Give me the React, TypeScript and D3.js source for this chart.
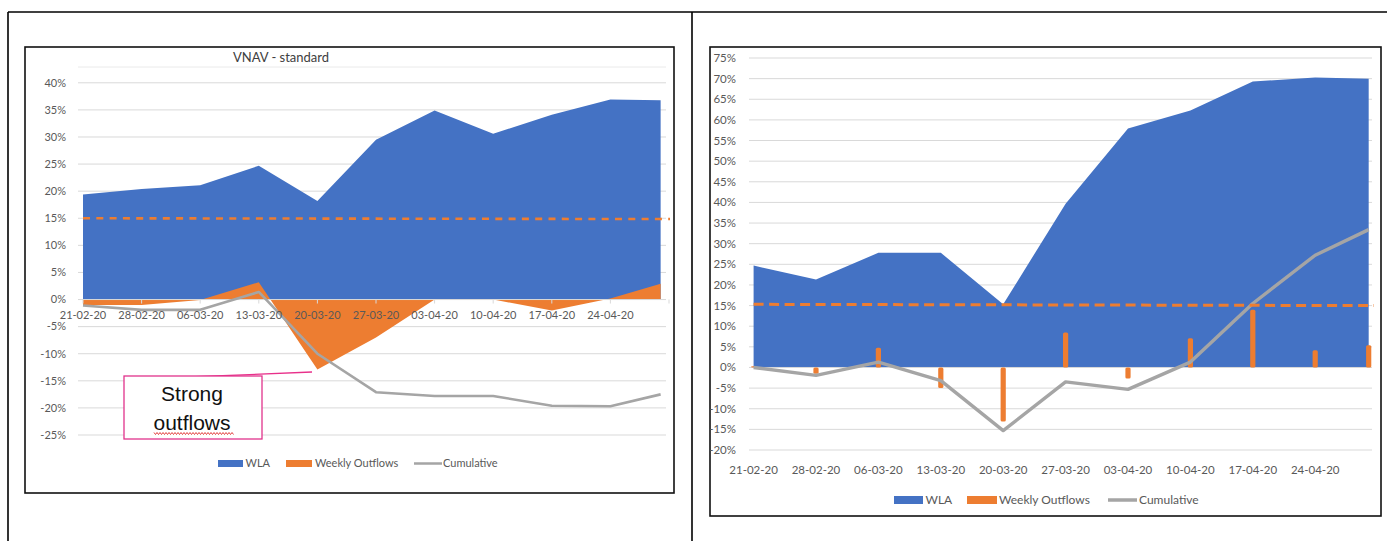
import React from "react";
import * as d3 from "d3";

// ---------- data ----------
const dates = [
  "2020-02-21", "2020-02-28", "2020-03-06", "2020-03-13", "2020-03-20", "2020-03-27",
  "2020-04-03", "2020-04-10", "2020-04-17", "2020-04-24", "2020-04-30",
];
const tickDates = [
  "2020-02-21", "2020-02-28", "2020-03-06", "2020-03-13", "2020-03-20", "2020-03-27",
  "2020-04-03", "2020-04-10", "2020-04-17", "2020-04-24", "2020-05-01",
];
const xTickLabels = [
  "21-02-20", "28-02-20", "06-03-20", "13-03-20", "20-03-20",
  "27-03-20", "03-04-20", "10-04-20", "17-04-20", "24-04-20",
];

const leftWLA = [19.4, 20.4, 21.1, 24.7, 18.2, 29.5, 34.9, 30.6, 34.1, 36.9, 36.8];
const leftOutflows = [-1.0, -1.0, -0.1, 3.2, -12.9, -7.0, 0.0, 0.0, -2.0, 0.2, 2.9];
const leftCumulative = [-1.1, -1.9, -1.9, 1.4, -10.0, -17.1, -17.8, -17.8, -19.6, -19.7, -17.5];
const leftYTicks = [40, 35, 30, 25, 20, 15, 10, 5, 0, -5, -10, -15, -20, -25];

const rightWLA = [24.7, 21.3, 27.8, 27.8, 15.3, 39.7, 57.9, 62.3, 69.3, 70.3, 70.0];
const rightOutflows = [0.3, -1.5, 4.8, -5.0, -13.1, 8.5, -2.7, 7.1, 14.0, 4.2, 5.4];
const rightCumulative = [0, -1.9, 1.3, -3.2, -15.3, -3.5, -5.3, 1.3, 15.5, 27.2, 33.4];
const rightYTicks = [75, 70, 65, 60, 55, 50, 45, 40, 35, 30, 25, 20, 15, 10, 5, 0, -5, -10, -15, -20];

const threshold = 15;
const leftTitle = "VNAV - standard";
const legendLabels = ["WLA", "Weekly Outflows", "Cumulative"];
const annotationLines = ["Strong", "outflows"];

// ---------- styles ----------
const BLUE = "#4472C4";
const ORANGE = "#ED7D31";
const GRAY = "#A5A5A5";
const GRID = "#D9D9D9";
const TEXT = "#595959";
const FONT = "Lato, 'Open Sans', sans-serif";

const parse = (s: string) => new Date(s + "T00:00:00Z");

function fmtPct(v: number) {
  return `${v}%`;
}

export default function App() {
  // left chart scales
  const xL = d3.scaleUtc().domain([parse("2020-02-21"), parse("2020-05-01")]).range([83, 669]);
  const yL = d3.scaleLinear().domain([-25, 40]).range([435, 82.8]);
  // right chart scales
  const xR = d3.scaleUtc().domain([parse("2020-02-21"), parse("2020-05-01")]).range([753.6, 1377.6]);
  const yR = d3.scaleLinear().domain([-20, 75]).range([450.0, 58]);

  const pts = dates.map(parse);

  const areaL = (vals: number[]) =>
    d3.area<number>().x((_, i) => xL(pts[i])).y0(yL(0)).y1((d) => yL(d))(vals) || "";
  const lineL = (vals: number[]) =>
    d3.line<number>().x((_, i) => xL(pts[i])).y((d) => yL(d))(vals) || "";
  const areaR = (vals: number[]) =>
    d3.area<number>().x((_, i) => xR(pts[i])).y0(yR(0)).y1((d) => yR(d))(vals) || "";
  const lineR = (vals: number[]) =>
    d3.line<number>().x((_, i) => xR(pts[i])).y((d) => yR(d))(vals) || "";

  // wavy spell-check underline
  const wave: [number, number][] = [];
  for (let x = 154, k = 0; x <= 234; x += 1.5, k++) wave.push([x, 433.5 + (k % 2 === 0 ? -1 : 1)]);
  const wavePath = d3.line()(wave) || "";

  const leftGridX0 = 78;
  const leftGridX1 = 666;
  const rightGridX0 = 749;
  const rightGridX1 = 1372;

  return (
    <svg
      width={1387}
      height={541}
      style={{ position: "absolute", left: 0, top: 0, background: "#fff" }}
      fontFamily={FONT}
    >
      <rect x={0} y={0} width={1387} height={541} fill="#fff" />
      {/* outer document frame */}
      <line x1={8} y1={12} x2={1387} y2={12} stroke="#000" strokeWidth={1.6} />
      <line x1={8} y1={12} x2={8} y2={541} stroke="#000" strokeWidth={1.6} />
      <line x1={692} y1={12} x2={692} y2={541} stroke="#000" strokeWidth={1.6} />

      {/* ================= LEFT CHART ================= */}
      <rect x={25} y={47} width={649} height={446} fill="#fff" stroke="#111" strokeWidth={1.6} />
      <text x={281} y={62} textAnchor="middle" fontSize={13} fill="#404040">
        {leftTitle}
      </text>
      <line x1={leftGridX0} x2={leftGridX1} y1={67} y2={67} stroke="#EAEAEA" strokeWidth={1} />
      {leftYTicks.map((t) => (
        <g key={"lg" + t}>
          <line x1={leftGridX0} x2={leftGridX1} y1={yL(t)} y2={yL(t)} stroke={GRID} strokeWidth={1} />
          <text x={66} y={yL(t)} dy="0.35em" textAnchor="end" fontSize={11} fill={TEXT}>
            {fmtPct(t)}
          </text>
        </g>
      ))}
      <path d={areaL(leftWLA)} fill={BLUE} />
      <path d={areaL(leftOutflows)} fill={ORANGE} />
      <line x1={leftGridX0} x2={leftGridX1} y1={yL(0)} y2={yL(0)} stroke={GRID} strokeWidth={1} />
      {tickDates.map((d) => (
        <line key={"lt" + d} x1={xL(parse(d))} x2={xL(parse(d))} y1={yL(0)} y2={yL(0) + 4} stroke={GRID} />
      ))}
      <path d={lineL(leftCumulative)} fill="none" stroke={GRAY} strokeWidth={2.6} strokeLinejoin="round" />
      <line
        x1={xL(pts[0])}
        x2={670}
        y1={yL(threshold)}
        y2={yL(threshold - 0.15)}
        stroke={ORANGE}
        strokeWidth={2.6}
        strokeDasharray="7 6.3"
      />
      {xTickLabels.map((lab, i) => (
        <text key={"lx" + lab} x={xL(parse(tickDates[i]))} y={315} dy="0.35em" textAnchor="middle" fontSize={11} fill={TEXT}>
          {lab}
        </text>
      ))}
      {/* annotation */}
      <line x1={189} y1={377} x2={312} y2={372} stroke="#E8308A" strokeWidth={1.3} />
      <rect x={124} y={376} width={138} height={63} fill="#fff" stroke="#E0338C" strokeWidth={1.3} />
      <text x={192} y={401} textAnchor="middle" fontSize={21} fontFamily="'Liberation Sans', Arial, sans-serif" fill="#111">
        {annotationLines[0]}
      </text>
      <text x={192} y={429.5} textAnchor="middle" fontSize={21} fontFamily="'Liberation Sans', Arial, sans-serif" fill="#111">
        {annotationLines[1]}
      </text>
      <path d={wavePath} fill="none" stroke="#E03030" strokeWidth={0.9} />
      {/* legend */}
      <rect x={218} y={460} width={25} height={7} fill={BLUE} />
      <text x={245.5} y={463.5} dy="0.35em" fontSize={11} fill={TEXT}>{legendLabels[0]}</text>
      <rect x={286} y={460} width={26} height={7} fill={ORANGE} />
      <text x={315} y={463.5} dy="0.35em" fontSize={11} fill={TEXT}>{legendLabels[1]}</text>
      <line x1={414} x2={442} y1={463.5} y2={463.5} stroke={GRAY} strokeWidth={2.5} />
      <text x={443} y={463.5} dy="0.35em" fontSize={11} fill={TEXT}>{legendLabels[2]}</text>

      {/* ================= RIGHT CHART ================= */}
      <rect x={710} y={47} width={671} height={469} fill="#fff" stroke="#111" strokeWidth={1.6} />
      {rightYTicks.map((t) => (
        <g key={"rg" + t}>
          <line x1={rightGridX0} x2={rightGridX1} y1={yR(t)} y2={yR(t)} stroke={GRID} strokeWidth={1} />
          <text x={736} y={yR(t)} dy="0.35em" textAnchor="end" fontSize={11.5} fill={TEXT}>
            {fmtPct(t)}
          </text>
        </g>
      ))}
      <path d={areaR(rightWLA)} fill={BLUE} />
      <line x1={rightGridX0} x2={rightGridX1} y1={yR(0)} y2={yR(0)} stroke={GRID} strokeWidth={1} />
      {rightOutflows.map((v, i) => (
        <rect
          key={"rb" + i}
          x={xR(pts[i]) - 2.6}
          width={5.2}
          y={Math.min(yR(v), yR(0))}
          height={Math.abs(yR(v) - yR(0))}
          rx={1.5}
          fill={ORANGE}
        />
      ))}
      <path d={lineR(rightCumulative)} fill="none" stroke={GRAY} strokeWidth={3.4} strokeLinejoin="round" />
      <line
        x1={xR(pts[0])}
        x2={1374}
        y1={yR(threshold + 0.3)}
        y2={yR(threshold)}
        stroke={ORANGE}
        strokeWidth={3}
        strokeDasharray="10 5.5"
      />
      {xTickLabels.map((lab, i) => (
        <text key={"rx" + lab} x={xR(parse(tickDates[i]))} y={469.5} dy="0.35em" textAnchor="middle" fontSize={11.5} fill={TEXT}>
          {lab}
        </text>
      ))}
      {/* legend */}
      <rect x={894} y={496} width={29} height={8} fill={BLUE} />
      <text x={925.5} y={500} dy="0.35em" fontSize={12} fill={TEXT}>{legendLabels[0]}</text>
      <rect x={967} y={496} width={30} height={8} fill={ORANGE} />
      <text x={999} y={500} dy="0.35em" fontSize={12} fill={TEXT}>{legendLabels[1]}</text>
      <line x1={1108} x2={1137} y1={500} y2={500} stroke={GRAY} strokeWidth={3.5} />
      <text x={1139} y={500} dy="0.35em" fontSize={12} fill={TEXT}>{legendLabels[2]}</text>
    </svg>
  );
}
